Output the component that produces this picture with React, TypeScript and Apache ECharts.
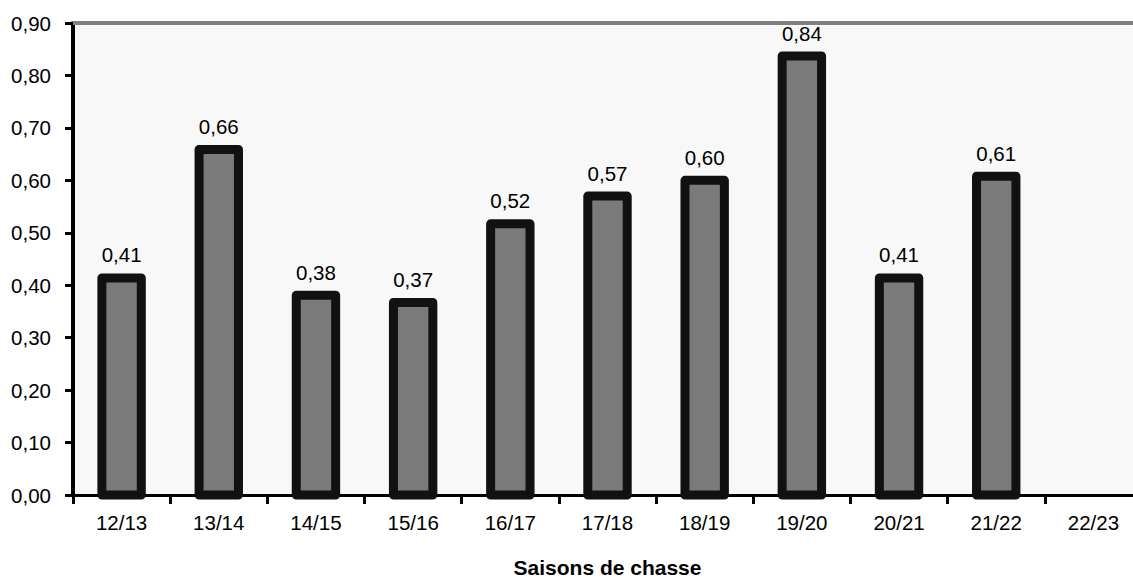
import React, { useEffect, useRef } from "react";
import * as echarts from "echarts";

const categories = ["12/13", "13/14", "14/15", "15/16", "16/17", "17/18", "18/19", "19/20", "20/21", "21/22", "22/23"];
const values: (number | null)[] = [0.414, 0.659, 0.381, 0.367, 0.517, 0.57, 0.6, 0.837, 0.414, 0.608, null];
const yMin = 0;
const yMax = 0.9;
const yInterval = 0.1;
const xAxisTitle = "Saisons de chasse";

const FONT = "'Liberation Sans', Arial, sans-serif";
const FS = 20.5;
const fmt = (v: number) => v.toFixed(2).replace(".", ",");

export default function App() {
  const ref = useRef<HTMLDivElement>(null);
  useEffect(() => {
    document.body.style.margin = "0";
    const chart = echarts.init(ref.current!, null, { renderer: "svg" });
    const seriesData = values.map((v, i) => [i, v]);
    chart.setOption({
      animation: false,
      backgroundColor: "#ffffff",
      textStyle: { fontFamily: FONT },
      grid: {
        left: 73,
        top: 23,
        right: -9,
        bottom: 83,
        show: true,
        backgroundColor: "#f8f8f8",
        borderWidth: 0,
        containLabel: false,
        outerBoundsMode: "none",
      },
      xAxis: [
        {
          type: "category",
          data: categories,
          position: "bottom",
          axisLine: { show: true, lineStyle: { color: "#000", width: 3 } },
          axisTick: { show: true, alignWithLabel: false, length: 9, lineStyle: { color: "#000", width: 3 } },
          axisLabel: { color: "#000", fontSize: FS, fontFamily: FONT, margin: 17 },
          name: xAxisTitle,
          nameLocation: "middle",
          nameGap: 62,
          nameTextStyle: { color: "#000", fontSize: 21, fontWeight: "bold", fontFamily: FONT },
        },
        {
          type: "category",
          data: categories,
          position: "top",
          axisLine: { show: true, lineStyle: { color: "#808080", width: 4 } },
          axisTick: { show: false },
          axisLabel: { show: false },
        },
      ],
      yAxis: {
        type: "value",
        min: yMin,
        max: yMax,
        interval: yInterval,
        axisLine: { show: true, lineStyle: { color: "#000", width: 4 } },
        axisTick: { show: true, length: 8, lineStyle: { color: "#000", width: 3 } },
        axisLabel: {
          color: "#000",
          fontSize: FS,
          fontFamily: FONT,
          margin: 22,
          formatter: (v: number) => fmt(v),
        },
        splitLine: { show: false },
      },
      series: [
        {
          type: "custom",
          xAxisIndex: 0,
          yAxisIndex: 0,
          data: seriesData,
          clip: false,
          renderItem: (params: any, api: any) => {
            const v = api.value(1);
            if (v == null || isNaN(v)) return null;
            const idx = api.value(0);
            const top = api.coord([idx, v]);
            const base = api.coord([idx, 0]);
            const w = 39.4;
            return {
              type: "group",
              children: [
                {
                  type: "rect",
                  shape: { x: top[0] - w / 2, y: top[1], width: w, height: base[1] - top[1] },
                  style: { fill: "#7a7a7a", stroke: "#111111", lineWidth: 9, lineJoin: "round" },
                },
                {
                  type: "text",
                  x: top[0],
                  y: top[1] - 23,
                  style: {
                    text: fmt(v),
                    fill: "#000",
                    font: `${FS}px ${FONT}`,
                    align: "center",
                    verticalAlign: "middle",
                  },
                },
              ],
            };
          },
        },
      ],
    });
    return () => chart.dispose();
  }, []);
  return <div ref={ref} style={{ width: 1133, height: 578 }} />;
}
